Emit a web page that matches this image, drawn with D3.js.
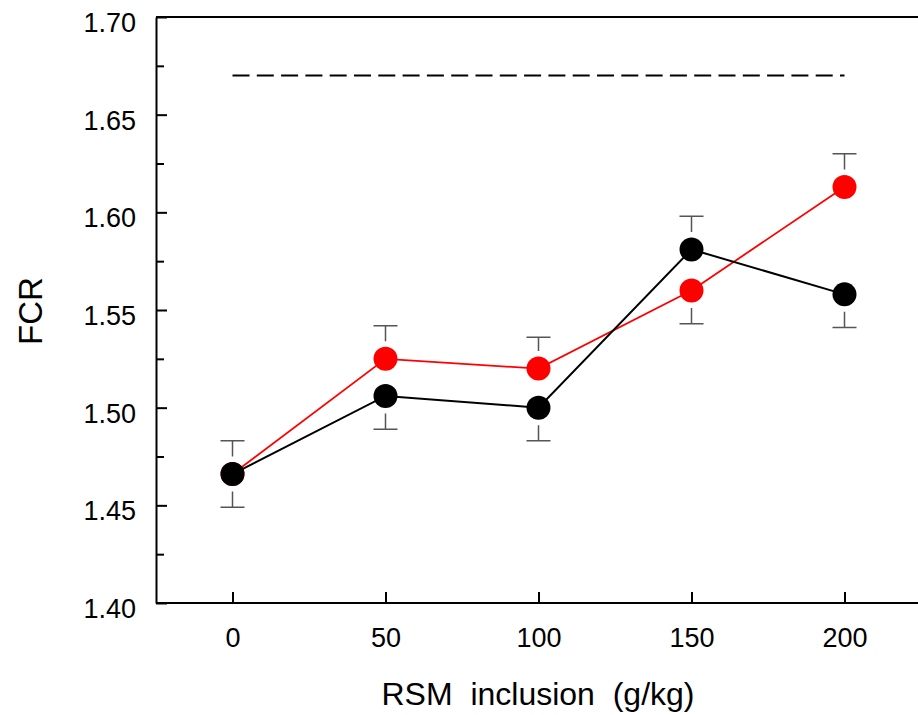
<!DOCTYPE html>
<html>
<head>
<meta charset="utf-8">
<script src="https://cdn.jsdelivr.net/npm/d3@7"></script>
<style>
  body { margin: 0; background: #fff; }
  text { font-family: "Liberation Sans", Arial, sans-serif; fill: #000; }
</style>
</head>
<body>
<svg id="chart" width="918" height="715"></svg>
<script>
// data
var levels = [0, 50, 100, 150, 200];              // RSM inclusion, g/kg
var redMean = [1.466, 1.525, 1.520, 1.560, 1.613];
var redSem = [0.017, 0.017, 0.016, 0.017, 0.017];
var blackMean = [1.466, 1.506, 1.500, 1.581, 1.558];
var blackSem = [0.017, 0.017, 0.017, 0.017, 0.017];
var refLine = 1.67;                                 // dashed reference
var yTicks = [1.40, 1.45, 1.50, 1.55, 1.60, 1.65, 1.70];
var yMinor = [1.425, 1.475, 1.525, 1.575, 1.625, 1.675];

var svg = d3.select("#chart");

var plotLeft = 156, plotRight = 921, plotTop = 17, plotBottom = 603
    ,r = 12
    ,gap = 5.5;

var x = d3.scaleLinear().domain([-25, 225]).range([plotLeft, plotRight]);
var y = d3.scaleLinear().domain([1.40, 1.70]).range([plotBottom, plotTop]);

// top frame line
svg.append("line").attr("x1", plotLeft).attr("x2", 918).attr("y1", plotTop).attr("y2", plotTop)
    .attr("stroke", "#000").attr("stroke-width", 2);

var yAxis = svg.append("g")
    .attr("transform", "translate(" + plotLeft + ",0)")
    .call(d3.axisLeft(y).tickValues(yTicks).tickSizeInner(-11).tickSizeOuter(0)
        .tickPadding(20).tickFormat(d3.format(".2f")));
yAxis.select(".domain").attr("stroke-width", 2);
yAxis.selectAll(".tick line").attr("stroke-width", 2);
yAxis.selectAll(".tick text")
    .attr("x", -20).attr("dy", "0.54em")
    .style("font-size", "27px");

var yMinorAxis = svg.append("g")
    .attr("transform", "translate(" + plotLeft + ",0)")
    .call(d3.axisLeft(y).tickValues(yMinor).tickSizeInner(-8).tickSizeOuter(0).tickFormat(""));
yMinorAxis.select(".domain").remove();
yMinorAxis.selectAll(".tick line").attr("stroke-width", 2);

var xAxis = svg.append("g")
    .attr("transform", "translate(0," + plotBottom + ")")
    .call(d3.axisBottom(x).tickValues(levels).tickSizeInner(-11).tickSizeOuter(0));
xAxis.select(".domain").attr("stroke-width", 2).attr("d", "M" + plotLeft + ",0H918");
xAxis.selectAll(".tick line").attr("stroke-width", 2);
xAxis.selectAll(".tick text")
    .attr("y", 44).attr("dy", 0)
    .style("font-size", "27px");

// axis titles
svg.append("text")
    .attr("x", 538).attr("y", 705)
    .attr("text-anchor", "middle")
    .style("font-size", "32px")
    .style("white-space", "pre")
    .text("RSM  inclusion  (g/kg)");

svg.append("text")
    .attr("transform", "translate(42,311) rotate(-90)")
    .attr("text-anchor", "middle")
    .style("font-size", "33px")
    .text("FCR");

// dashed reference line
svg.append("line")
    .attr("x1", x(levels[0])).attr("x2", x(levels[levels.length - 1]))
    .attr("y1", y(refLine)).attr("y2", y(refLine))
    .attr("stroke", "#000").attr("stroke-width", 2)
    .attr("stroke-dasharray", "17,7.3");

function series(mean, sem, other, color, isRed) {
    var pts = levels.map(function (l, i) {
        // error bar points away from the other series
        var up = isRed ? mean[i] >= other[i] : mean[i] > other[i];
        return { x: l, m: mean[i], s: sem[i], up: up };
    });

    var g = svg.append("g");

    g.selectAll(".err")
        .data(pts)
        .enter()
        .append("path")
        .attr("class", "err")
        .attr("fill", "none")
        .attr("stroke", "#555")
        .attr("stroke-width", 1.5)
        .attr("d", function (d) {
            var cx = x(d.x), cy = y(d.m);
            var cap = y(d.up ? d.m + d.s : d.m - d.s);
            var start = d.up ? cy - r - gap : cy + r + gap;
            return "M" + cx + "," + start + "V" + cap + "M" + (cx - 12) + "," + cap + "H" + (cx + 12);
        });

    g.append("path")
        .datum(pts)
        .attr("fill", "none")
        .attr("stroke", color)
        .attr("stroke-width", isRed ? 1.8 : 2)
        .attr("d", d3.line().x(function (d) { return x(d.x); }).y(function (d) { return y(d.m); }));

    g.selectAll(".dot")
        .data(pts)
        .enter()
        .append("circle")
        .attr("class", "dot")
        .attr("cx", function (d) { return x(d.x); })
        .attr("cy", function (d) { return y(d.m); })
        .attr("r", r)
        .attr("fill", color);
}

series(redMean, redSem, blackMean, "#ff0000", true);
series(blackMean, blackSem, redMean, "#000000", false);
</script>
</body>
</html>
